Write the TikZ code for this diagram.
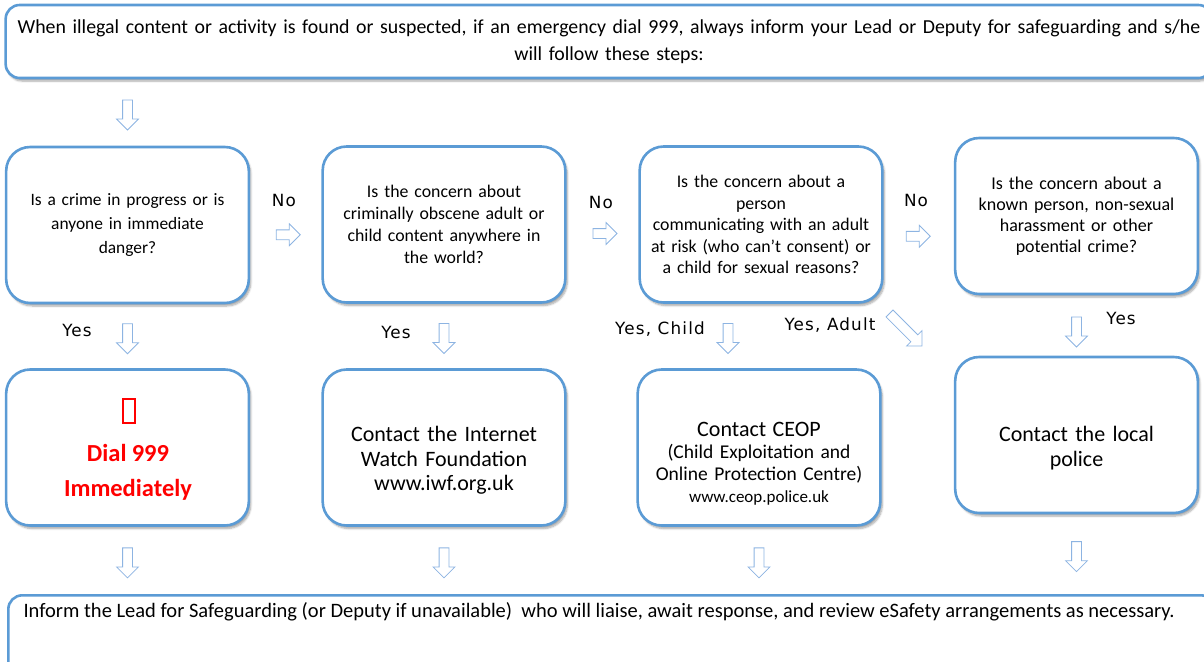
\documentclass[tikz,border=0pt]{standalone}
\usepackage{fontspec}
\setmainfont{Carlito}
\newfontfamily\lblfont[LetterSpace=7]{DejaVu Sans}
\usetikzlibrary{shapes.arrows,shadows.blur,calc,positioning}
\definecolor{boxblue}{RGB}{91,155,213}
\definecolor{arrowblue}{RGB}{141,180,226}
\definecolor{dialred}{RGB}{255,0,0}
\tikzset{
  flowbox/.style={draw=boxblue, line width=2.6pt, fill=white, rounded corners=24pt,
    minimum width=241pt, minimum height=156pt, text width=236pt, align=center,
    blur shadow={shadow xshift=2pt, shadow yshift=-3pt, shadow blur steps=6, shadow opacity=35}},
  widebox/.style={flowbox, rounded corners=14pt, minimum width=1204pt, text width=1200pt},
  boxtext/.style={text width=236pt, align=center},
  blockarrow/.style={single arrow, draw=arrowblue, fill=white, line width=0.8pt, inner sep=4.5pt,
    single arrow head extend=6pt, minimum height=30pt},
  downarrow/.style={blockarrow, rotate=-90},
  rightarrow/.style={blockarrow, minimum height=24pt},
  answer/.style={font=\lblfont\fontsize{16.8}{18}\selectfont}
}
\begin{document}
\begin{tikzpicture}[x=1pt, y=-1pt]
  \useasboundingbox (0,0) rectangle (1204,661);
  \clip (0,0) rectangle (1204,661);

  % header and footer
  \node[widebox, minimum height=73pt, font=\fontsize{19.85}{27}\selectfont] (top) at (609,41.5)
    {When illegal content or activity is found or suspected, if an emergency dial 999, always inform your Lead or Deputy for safeguarding and s/he\\will follow these steps:};
  \node[widebox, minimum height=92pt, anchor=north west] (bot) at (7,594) {};
  \node[anchor=west, font=\fontsize{20.5}{22}\selectfont] (botline) at (20,612)
    {Inform the Lead for Safeguarding (or Deputy if unavailable)\ \ who will liaise, await response, and review eSafety arrangements as necessary.};

  % questions
  \node[flowbox, font=\fontsize{17.4}{24}\selectfont] (q1) at (127.5,225)
    {Is a crime in progress or is\\anyone in immediate\\danger?};
  \node[flowbox, font=\fontsize{17.8}{22}\selectfont] (q2) at (444,224.5)
    {Is the concern about\\criminally obscene adult or\\child content anywhere in\\the world?};
  \node[flowbox, font=\fontsize{17.8}{21.5}\selectfont] (q3) at (761,224.5)
    {Is the concern about a\\person\\communicating with an adult\\at risk (who can’t consent) or\\a child for sexual reasons?};
  \node[flowbox, font=\fontsize{18}{21}\selectfont] (q4) at (1076.5,216)
    {Is the concern about a\\known person, non-sexual\\harassment or other\\potential crime?};

  % actions
  \node[flowbox] (a1) at (127.5,447.5) {};
  \node[flowbox] (a2) at (444,447.5) {};
  \node[flowbox] (a3) at (759,447.5) {};
  \node[flowbox] (a4) at (1076.5,435) {};
  \node[draw=dialred, line width=2pt, minimum width=12pt, minimum height=24pt, inner sep=0pt] (phone) at (129,411) {};
  \node[boxtext, text=dialred, font=\bfseries\fontsize{24.5}{35}\selectfont] (dial) at (128,472)
    {Dial\hspace{-0.12em} 999\\Immediately};
  \node[boxtext, font=\fontsize{22}{24.5}\selectfont] (iwf) at ([yshift=-13pt]a2.center)
    {Contact the Internet\\Watch Foundation\\www.iwf.org.uk};
  \node[boxtext, font=\fontsize{19.5}{22}\selectfont] (ceop) at ([yshift=-16pt]a3.center)
    {{\fontsize{22}{22}\selectfont Contact CEOP}\\(Child Exploitation and\\Online Protection Centre)\\{\fontsize{17}{20}\selectfont www.ceop.police.uk}};
  \node[boxtext, font=\fontsize{22}{24.5}\selectfont] (police) at ([yshift=-13pt]a4.center)
    {Contact the local\\police};

  % block arrows
  \node[downarrow] (d0) at ($(q1.north |- top.south)!0.5!(q1.north)$) {};
  \node[rightarrow] (r1) at ([yshift=-10pt]$(q1.east)!0.5!(q2.west)$) {};
  \node[rightarrow] (r2) at ([yshift=-9pt]$(q2.east)!0.5!(q3.west)$) {};
  \node[rightarrow] (r3) at ([xshift=-3pt, yshift=-16pt]$(q3.east)!0.5!(q4.west)$) {};
  \node[downarrow] (y1) at ($(q1.south)!0.5!(a1.north)$) {};
  \node[downarrow] (y2) at ($(q2.south)!0.5!(a2.north)$) {};
  \node[downarrow] (y3) at ([xshift=-32pt]$(q3.south)!0.5!(a3.north)$) {};
  \node[blockarrow, rotate=-45, minimum height=46pt] (y3b) at ([xshift=144pt, yshift=8pt]$(q3.south)!0.5!(a3.north)$) {};
  \node[downarrow] (y4) at ([yshift=-4pt]$(q4.south)!0.5!(a4.north)$) {};
  \foreach \b in {a1,a2,a3,a4}
    \node[downarrow] (f-\b) at ($(\b.south)!0.5!(\b.south |- bot.north)$) {};

  % answers
  \node[answer] (no1) at (284,200) {No};
  \node[answer] (no2) at (601,202) {No};
  \node[answer] (no3) at (916,200) {No};
  \node[answer] (yes1) at (77,330) {Yes};
  \node[answer] (yes2) at (396,332) {Yes};
  \node[answer] (yes3) at (660,329) {Yes, Child};
  \node[answer] (yes3b) at (830,325) {Yes, Adult};
  \node[answer] (yes4) at (1121,318) {Yes};
\end{tikzpicture}
\end{document}
